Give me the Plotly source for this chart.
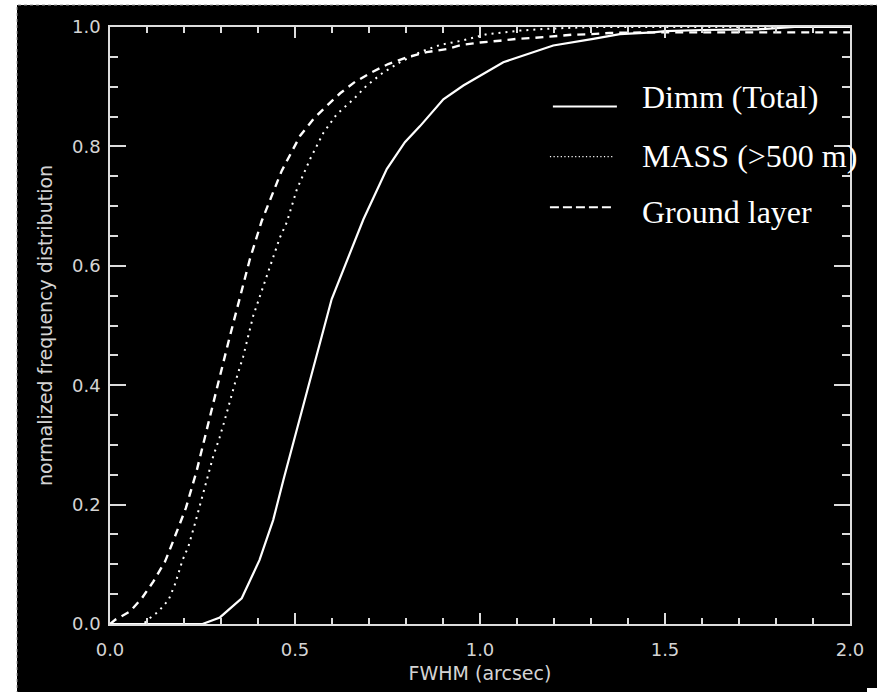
import plotly.graph_objects as go

# ---- data ----
dimm_x = [0.0, 0.10, 0.20, 0.25, 0.297, 0.356, 0.404, 0.441, 0.469, 0.512, 0.554, 0.599,
          0.685, 0.748, 0.797, 0.838, 0.901, 0.955, 1.063, 1.198, 1.306, 1.378, 1.468,
          1.50, 1.60, 1.75, 1.85, 2.0]
dimm_y = [0.0, 0.0, 0.0, 0.0, 0.011, 0.043, 0.107, 0.174, 0.242, 0.342, 0.443, 0.544,
          0.678, 0.762, 0.807, 0.834, 0.879, 0.902, 0.941, 0.969, 0.980, 0.988, 0.991,
          0.993, 0.995, 0.996, 1.0, 1.0]

mass_x = [0.0, 0.09, 0.108, 0.131, 0.158, 0.176, 0.196, 0.212, 0.230, 0.248, 0.263, 0.279,
          0.296, 0.308, 0.338, 0.360, 0.387, 0.410, 0.432, 0.459, 0.478, 0.505, 0.541,
          0.577, 0.613, 0.658, 0.694, 0.739, 0.784, 0.838, 0.892, 0.95, 1.018, 1.108,
          1.18, 1.30, 2.0]
mass_y = [0.0, 0.0, 0.010, 0.021, 0.040, 0.067, 0.107, 0.130, 0.169, 0.211, 0.242, 0.281,
          0.312, 0.337, 0.404, 0.448, 0.516, 0.558, 0.597, 0.647, 0.673, 0.728, 0.779,
          0.823, 0.854, 0.879, 0.902, 0.924, 0.941, 0.958, 0.970, 0.977, 0.988, 0.994,
          0.997, 1.0, 1.0]

ground_x = [0.0, 0.014, 0.054, 0.086, 0.117, 0.149, 0.167, 0.186, 0.205, 0.234, 0.261,
            0.297, 0.324, 0.351, 0.378, 0.410, 0.464, 0.514, 0.550, 0.586, 0.622, 0.662,
            0.707, 0.752, 0.802, 0.856, 0.910, 0.950, 1.0, 1.054, 1.099, 1.149, 1.198,
            1.248, 1.302, 1.351, 1.45, 2.0]
ground_y = [0.0, 0.007, 0.021, 0.043, 0.071, 0.105, 0.133, 0.163, 0.194, 0.256, 0.326,
            0.415, 0.482, 0.546, 0.611, 0.675, 0.759, 0.818, 0.846, 0.868, 0.889, 0.908,
            0.924, 0.938, 0.949, 0.958, 0.963, 0.970, 0.974, 0.977, 0.980, 0.982, 0.985,
            0.987, 0.988, 0.990, 0.991, 0.991]

legend_labels = ["Dimm (Total)", "MASS (>500 m)", "Ground layer"]
x_ticks = [0.0, 0.5, 1.0, 1.5, 2.0]
y_ticks = [0.0, 0.2, 0.4, 0.6, 0.8, 1.0]

W, H = 877, 692
L, R, T, B = 110, 877 - 850, 27, 692 - 624

fig = go.Figure()
fig.add_trace(go.Scatter(x=dimm_x, y=dimm_y, mode="lines",
                         line=dict(color="white", width=2.2), cliponaxis=True))
fig.add_trace(go.Scatter(x=mass_x, y=mass_y, mode="lines",
                         line=dict(color="white", width=2, dash="2px,5px"), cliponaxis=True))
fig.add_trace(go.Scatter(x=ground_x, y=ground_y, mode="lines",
                         line=dict(color="white", width=2.4, dash="8px,6px"), cliponaxis=True))

def px2paper(px, py):
    return (px - L) / (W - L - R), (H - B - py) / (H - T - B)

shapes = []
# black page area with dashed edge (white strip at left/top)
x0, y0 = px2paper(17, 5)
x1, y1 = px2paper(W + 5, H + 5)
shapes.append(dict(type="rect", xref="paper", yref="paper", x0=x0, y0=y1, x1=x1, y1=y0,
                   fillcolor="black", line=dict(color="#9a9a9a", width=1, dash="3px,3px"),
                   layer="below"))
# small white block bottom-right
bx0, by0 = px2paper(867, 688)
bx1, by1 = px2paper(W + 2, H + 2)
shapes.append(dict(type="rect", xref="paper", yref="paper", x0=bx0, y0=by1, x1=bx1, y1=by0,
                   fillcolor="white", line=dict(width=0), layer="above"))

# legend sample lines (data coords)
leg_styles = [dict(color="white", width=2),
              dict(color="white", width=1.2, dash="1.2px,2.4px"),
              dict(color="white", width=2, dash="9px,4px")]
leg_x0 = [1.197, 1.189, 1.189]
leg_x1 = [1.370, 1.359, 1.359]
leg_ly = [0.867, 0.783, 0.698]
for a, b, yy, st in zip(leg_x0, leg_x1, leg_ly, leg_styles):
    shapes.append(dict(type="line", xref="x", yref="y", x0=a, x1=b, y0=yy, y1=yy, line=st))

annotations = []
leg_ty = [0.882, 0.784, 0.690]
for lab, yy in zip(legend_labels, leg_ty):
    annotations.append(dict(x=1.432, y=yy, xref="x", yref="y", text=lab, showarrow=False,
                            xanchor="left", yanchor="middle",
                            font=dict(family="Liberation Serif", size=32, color="white")))

tickfont = dict(family="DejaVu Sans", size=18, color="#d4d4d4")
titlefont = dict(family="DejaVu Sans", size=19, color="#d4d4d4")
axcol = "#dddddd"
fig.update_layout(
    width=W, height=H,
    margin=dict(l=L, r=R, t=T, b=B, pad=0),
    paper_bgcolor="white", plot_bgcolor="black",
    showlegend=False,
    shapes=shapes, annotations=annotations,
    xaxis=dict(range=[0, 2], tickvals=x_ticks, ticktext=[f"{v:.1f}" for v in x_ticks],
               ticks="inside", ticklen=11, tickwidth=1.5, tickcolor=axcol,
               minor=dict(dtick=0.1, tick0=0, ticks="inside", ticklen=6, tickwidth=1.5,
                          tickcolor=axcol, showgrid=False),
               showline=True, linecolor=axcol, linewidth=1.5, mirror="ticks",
               showgrid=False, zeroline=False, tickfont=tickfont, ticklabelstandoff=9,
               title=dict(text="FWHM (arcsec)", font=titlefont, standoff=7),
               automargin=False, fixedrange=True),
    yaxis=dict(range=[0, 1], tickvals=y_ticks, ticktext=[f"{v:.1f}" for v in y_ticks],
               ticks="inside", ticklen=16, tickwidth=1.5, tickcolor=axcol,
               minor=dict(dtick=0.05, tick0=0, ticks="inside", ticklen=8, tickwidth=1.5,
                          tickcolor=axcol, showgrid=False),
               showline=True, linecolor=axcol, linewidth=1.5, mirror="ticks",
               showgrid=False, zeroline=False, tickfont=tickfont, ticklabelstandoff=4,
               title=dict(text="normalized frequency distribution", font=titlefont,
                          standoff=14),
               automargin=False, fixedrange=True),
)

fig.write_html("out.html")
